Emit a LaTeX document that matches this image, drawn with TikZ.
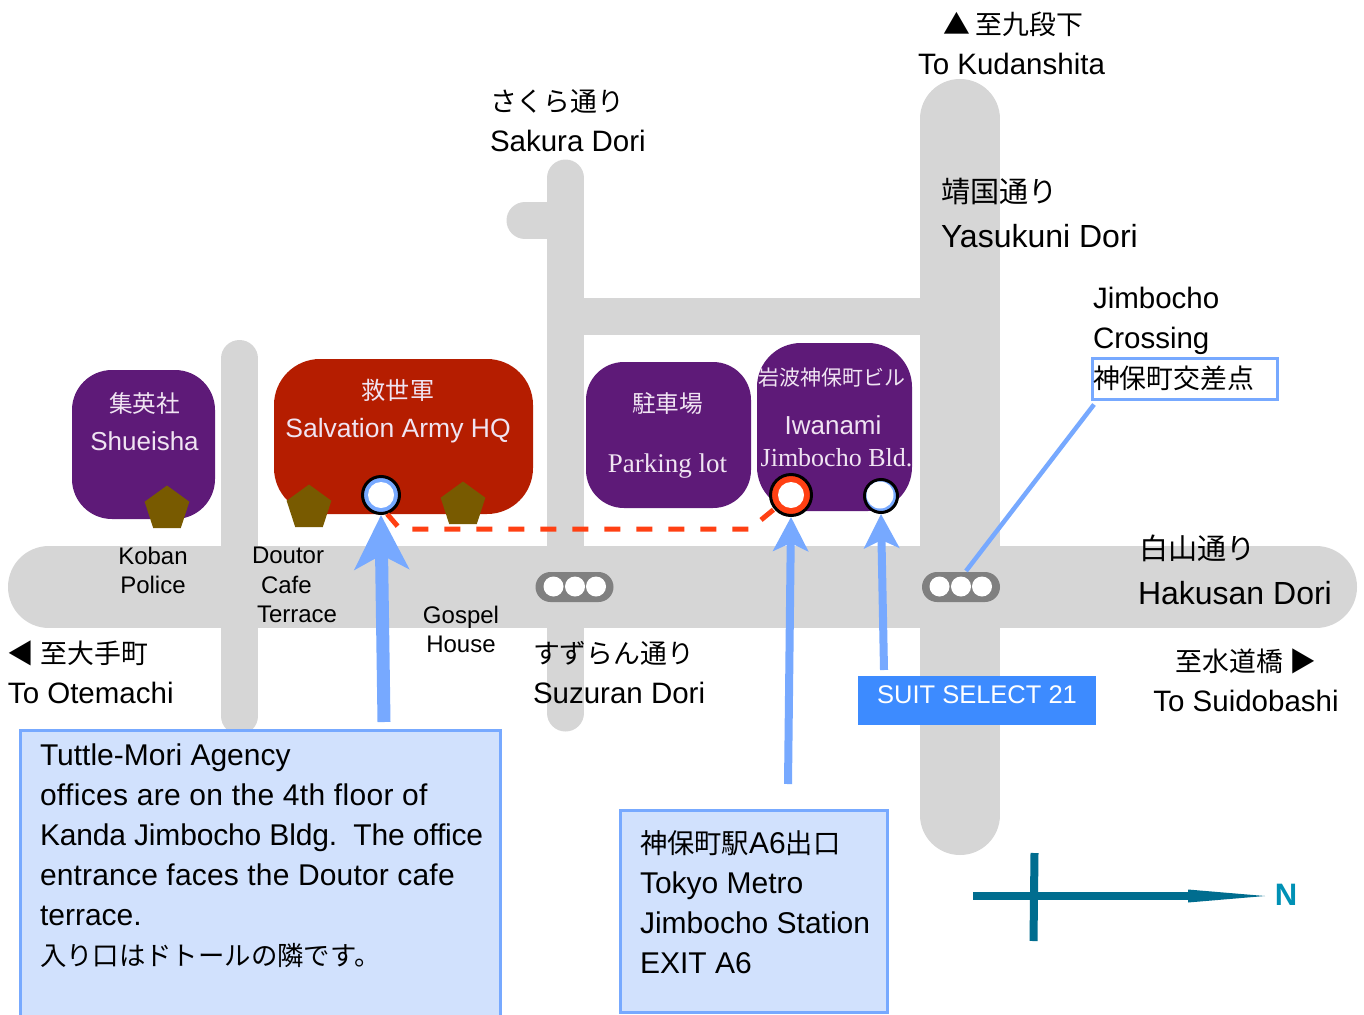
\documentclass[tikz,border=0pt]{standalone}
\usepackage{fontspec}
\setmainfont{Liberation Sans}
\newfontfamily\jp[Scale=0.91]{Noto Sans CJK JP}
\newfontfamily\sr{Liberation Serif}
\usetikzlibrary{arrows.meta,shapes.geometric}
\definecolor{road}{HTML}{D6D6D6}
\definecolor{purp}{HTML}{5E1A78}
\definecolor{armyred}{HTML}{B51D00}
\definecolor{penta}{HTML}{785A00}
\definecolor{ptr}{HTML}{77A9FF}
\definecolor{hot}{HTML}{FF4013}
\definecolor{pale}{HTML}{D1E1FD}
\definecolor{suit}{HTML}{3D8BFF}
\definecolor{nav}{HTML}{006D8F}
\definecolor{navtxt}{HTML}{0091B5}
\definecolor{lilac}{HTML}{F0E4F2}
\tikzset{
  x=1pt,y=-1pt,
  roadw/.style={draw=road,line cap=round,line width=#1},
  bld/.style={anchor=north west,inner sep=0,outer sep=0,draw=none},
  lab/.style={inner sep=0,outer sep=0,align=left,anchor=north west,font=\fontsize{29.5}{40}\selectfont},
  labc/.style={inner sep=0,outer sep=0,align=center,anchor=north,font=\fontsize{29.5}{40}\selectfont},
  small/.style={inner sep=0,outer sep=0,align=center,anchor=north,font=\fontsize{24}{29.5}\selectfont},
  intxt/.style={inner sep=0,outer sep=0,align=center,anchor=north,text=lilac,font=\fontsize{26}{38}\selectfont},
  pent/.style={regular polygon,regular polygon sides=5,fill=penta,minimum size=47,inner sep=0,outer sep=0},
  stn/.style={circle,fill=#1,draw=black,line width=3,inner sep=0,outer sep=auto},
  hole/.style={circle,fill=white,inner sep=0,outer sep=0},
  sig/.style={rounded corners=15,inner sep=0,outer sep=0,minimum width=78,minimum height=30,fill=black!50},
  lamp/.style={circle,fill=white,inner sep=0,outer sep=0,minimum size=20},
  bigarrow/.style={draw=ptr,line width=13,-{Stealth[length=54,width=54,inset=14]}},
  arrowb/.style={draw=ptr,line width=8,-{Stealth[length=34,width=35,inset=8]}},
  infobox/.style={anchor=north west,draw=ptr,line width=3,fill=pale,inner sep=0,outer sep=0},
}
\begin{document}
\begin{tikzpicture}
\fill[white] (0,0) rectangle (1364,1014);
\useasboundingbox (0,0) rectangle (1364,1014);
% roads
\draw[roadw=82] (49,587) -- (1316,587);
\draw[roadw=80] (960,119) -- (960,815);
\draw[roadw=37] (565.5,178) -- (565.5,713);
\draw[roadw=37] (239.5,358.5) -- (239.5,716);
\draw[roadw=37] (525,220.5) -- (565,220.5);
\draw[road,line width=37] (565,316.5) -- (960,316.5);
% buildings
\node[bld,fill=purp,rounded corners=40,minimum width=143,minimum height=149] (shueisha) at (72,370) {};
\node[bld,fill=armyred,rounded corners=46,minimum width=259,minimum height=155] (army) at (274,359) {};
\node[bld,fill=purp,rounded corners=38,minimum width=165,minimum height=146] (parking) at (586,362) {};
\node[bld,fill=purp,rounded corners=44,minimum width=155,minimum height=168] (iwanami) at (757,343) {};
\node[pent] (p1) at (167,509) {};
\node[pent] (p2) at (309,508) {};
\node[pent] (p3) at (463,505) {};
% building labels
\node[intxt] (t1) at (144.5,393) {{\jp 集英社}\\Shueisha};
\node[intxt,font=\fontsize{26.5}{38}\selectfont] (t2) at (398,379) {{\jp 救世軍}\\Salvation Army HQ};
\node[intxt,font=\fontsize{27}{60}\selectfont] (t3) at (667.5,393) {{\jp\fontsize{26}{60}\selectfont 駐車場}\\\sr Parking lot};
\node[intxt,font=\fontsize{23}{23}\selectfont] (t4) at (832,368) {\jp 岩波神保町ビル};
\node[intxt,font=\fontsize{26}{26}\selectfont] (t5) at (833,416) {Iwanami};
\node[intxt,font=\fontsize{26}{26}\selectfont] (t6) at (836.5,448) {\sr Jimbocho Bld.};
% dashed walking route
\node[stn=ptr,minimum size=37] (door) at (381,495) {};
\node[hole,minimum size=26] (doorh) at (381,495) {};
\node[stn=hot,minimum size=41] (exit) at (791,495) {};
\node[hole,minimum size=26] (exith) at (791,495) {};
\node[stn=ptr,minimum size=33] (suitdoor) at (881,496) {};
\node[hole,minimum size=27] (suith) at (880,495) {};
\coordinate (r1) at (400,529);
\coordinate (r2) at (750,529);
\draw[hot,line width=5,dash pattern=on 16 off 16] (door.-72) -- (r1) -- (r2) -- (exit.-140);
% signals
\node[sig] (sigA) at (574.5,587) {};
\node[lamp] (a1) at (553.5,586.5) {};
\node[lamp] (a2) at (575,586.5) {};
\node[lamp] (a3) at (596,586.5) {};
\node[sig] (sigB) at (961,587) {};
\node[lamp] (b1) at (939.5,586.5) {};
\node[lamp] (b2) at (961,586.5) {};
\node[lamp] (b3) at (982,586.5) {};
% boxes
\node[infobox,minimum width=480,minimum height=300] (tuttle) at (20.5,730) {};
\node[infobox,minimum width=267,minimum height=202] (metro) at (620.5,810) {};
\node[anchor=north west,draw=ptr,line width=3,inner sep=0,outer sep=0,minimum width=185,minimum height=41] (crossbox) at (1092.5,358.5) {};
\node[anchor=north west,fill=suit,inner sep=0,outer sep=0,minimum width=238,minimum height=49] (suitbox) at (858,676) {};
% pointers
\coordinate (s1) at (384,722);
\coordinate (s2) at (788,784);
\coordinate (s3) at (884,670);
\coordinate (s5) at ([shift={(1.5,5)}]crossbox.south west);
\draw[bigarrow] (s1) -- (door.south);
\draw[arrowb] (s2) -- (exit.south);
\draw[arrowb] (s3) -- (suitdoor.south);
\draw[ptr,line width=4.5] (sigB.north) ++(5,-1) coordinate (s4) -- (s5);
% street labels
\node[lab] (kudan) at (918,12) {\hspace*{25pt}{\jp ▲ 至九段下}\\To Kudanshita};
\node[lab] (sakura) at (490,90) {{\jp さくら通り}\\Sakura Dori};
\node[lab,font=\fontsize{32}{45}\selectfont] (yasu) at (941,178) {{\jp 靖国通り}\\Yasukuni Dori};
\node[lab] (cross) at (1093,287) {Jimbocho\\Crossing\\{\jp 神保町交差点}};
\node[lab,font=\fontsize{32}{45}\selectfont] (haku) at (1138,535) {\hspace*{1pt}{\jp 白山通り}\\Hakusan Dori};
\node[lab] (otemachi) at (8,641) {{\jp ◀ 至大手町}\\To Otemachi};
\node[lab] (suzuran) at (533,641) {{\jp すずらん通り}\\Suzuran Dori};
\node[labc] (suido) at (1246,649) {{\jp 至水道橋 ▶}\\To Suidobashi};
\node[small] (koban) at (153,547) {Koban\\Police};
\node[small,align=left,anchor=north west] (doutor) at (252,547) {Doutor\\\hspace*{9pt}Cafe\\\hspace*{5pt}Terrace};
\node[small] (gospel) at (461,606) {Gospel\\House};
% box text
\node[lab,font=\fontsize{30}{40}\selectfont] (ttext) at (40,744) {Tuttle-Mori Agency\\{\addfontfeatures{LetterSpace=1.1}offices are on the 4th floor of}\\{\addfontfeatures{LetterSpace=-0.6}Kanda Jimbocho Bldg.\ \ The office}\\{\addfontfeatures{LetterSpace=0.6}entrance faces the Doutor cafe}\\terrace.\\{\jp\fontsize{29}{40}\selectfont 入り口はドトールの隣です。}};
\node[lab,font=\fontsize{30}{40}\selectfont] (mtext) at (640,831) {{\jp 神保町駅}A6{\jp 出口}\\Tokyo Metro\\Jimbocho Station\\EXIT A6};
\node[inner sep=0,outer sep=0,text=white,font=\fontsize{25.5}{30}\selectfont] (stext) at (977,695) {SUIT SELECT 21};
% compass
\coordinate (cw) at (973,896);
\coordinate (ce) at (1188,896);
\coordinate (ct) at (1265,896);
\coordinate (cn) at (1034.5,853);
\coordinate (cs) at (1033.5,941);
\draw[nav,line width=8] (cw) -- (ce);
\draw[nav,line width=8] (cn) -- (cs);
\fill[nav] (1188,889.5) -- (ct) -- (1188,902.5) -- cycle;
\node[inner sep=0,outer sep=0,text=navtxt,font=\bfseries\fontsize{31}{31}\selectfont] (north) at (1286,895) {N};
\end{tikzpicture}
\end{document}
